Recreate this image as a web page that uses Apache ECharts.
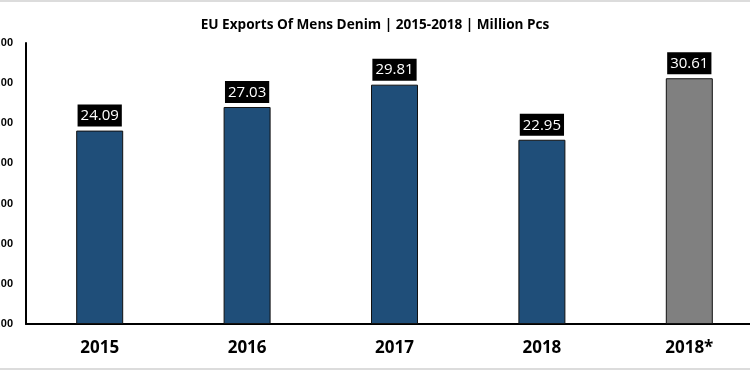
<!DOCTYPE html>
<html><head><meta charset="utf-8">
<script src="https://cdn.jsdelivr.net/npm/echarts@6/dist/echarts.min.js"></script>
<style>
html,body{margin:0;padding:0;background:#fff;}
#c{width:750px;height:370px;box-sizing:border-box;border-top:2px solid #dcdcdc;border-bottom:2px solid #dcdcdc;}
</style></head><body>
<div id="c"></div>
<script>
const categories = ['2015','2016','2017','2018','2018*'];
const values = [24.09, 27.03, 29.81, 22.95, 30.61];
const barColors = ['#1F4E79','#1F4E79','#1F4E79','#1F4E79','#808080'];
const yTicks = {min:0, max:35, interval:5};

const chart = echarts.init(document.getElementById('c'));
chart.setOption({
  animation:false,
  title:{text:'EU Exports Of Mens Denim | 2015-2018 | Million Pcs', left:'center', top:11,
    textStyle:{fontFamily:'Open Sans', fontWeight:'bold', fontSize:13.6, color:'#000'}},
  grid:{left:26, top:41, width:737, height:281, containLabel:false, outerBoundsMode:'none'},
  xAxis:{type:'category', data:categories,
    axisLine:{lineStyle:{color:'#000', width:2}}, axisTick:{show:false},
    axisLabel:{fontFamily:'Open Sans', fontWeight:'bold', fontSize:17, color:'#000', margin:16}},
  yAxis:{type:'value', min:yTicks.min, max:yTicks.max, interval:yTicks.interval,
    axisLine:{show:true, lineStyle:{color:'#000', width:2}}, axisTick:{show:false},
    splitLine:{show:false},
    axisLabel:{formatter:v=>v.toFixed(2), fontFamily:'Liberation Sans', fontWeight:'bold', fontSize:11, color:'#000', margin:13}},
  series:[{type:'bar', barWidth:47,
    data:values.map((v,i)=>({value:v, itemStyle:{color:barColors[i]}})),
    itemStyle:{borderColor:'#111', borderWidth:1},
    label:{show:true, position:'top', distance:4, formatter:p=>p.value.toFixed(2),
      backgroundColor:'#000', color:'#fff', fontFamily:'Open Sans', fontSize:15, padding:[1,3,0,3], lineHeight:21}
  }]
});
</script></body></html>
